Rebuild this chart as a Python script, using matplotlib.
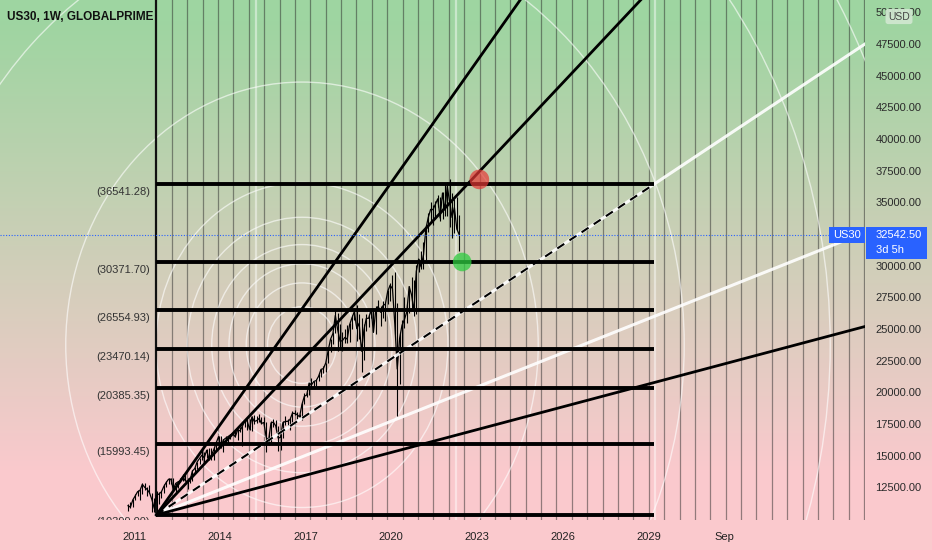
import numpy as np
import matplotlib
matplotlib.use("Agg")
import matplotlib.pyplot as plt
from matplotlib.patches import Ellipse, Rectangle

plt.rcParams['font.family'] = ['Liberation Sans', 'DejaVu Sans']

# ---------------- data ----------------
title = "US30, 1W, GLOBALPRIME"
symbol = "US30"
last_price = 32542.50
countdown = "3d 5h"
currency = "USD"

start_year, start_month = 2010, 10  # first monthly bar (Oct 2010)
closes = [
    11118, 11006, 11578,
    11892, 12226, 12320, 12811, 12570, 12414, 12143, 11614, 10913, 11955, 12046, 12218,
    12633, 12952, 13212, 13214, 12393, 12880, 13009, 13091, 13437, 13096, 13026, 13104,
    13861, 14054, 14579, 14840, 15116, 14910, 15500, 14810, 15130, 15546, 16086, 16577,
    15699, 16322, 16458, 16581, 16717, 16827, 16563, 17098, 17043, 17391, 17828, 17823,
    17165, 18133, 17776, 17841, 18011, 17620, 17690, 16528, 16285, 17664, 17720, 17425,
    16466, 16517, 17685, 17774, 17787, 17930, 18432, 18401, 18308, 18142, 19124, 19763,
    19864, 20812, 20663, 20941, 21009, 21350, 21891, 21948, 22405, 23377, 24272, 24719,
    26149, 25029, 24103, 24163, 24416, 24271, 25415, 25965, 26458, 25116, 25538, 23327,
    24999, 25916, 25929, 26593, 24815, 26600, 26864, 26403, 26917, 27046, 28051, 28538,
    28256, 25409, 21917, 24346, 25383, 25813, 26428, 28430, 27782, 26502, 29638, 30606,
    29983, 30932, 32982, 33875, 34529, 34503, 34935, 35361, 33844, 35820, 34484, 36338,
    35132, 33893, 34678, 32977, 32542.5,
]
highs = [
    11246, 11451, 11625,
    12020, 12391, 12419, 12876, 12929, 12570, 12753, 12143, 11717, 12284, 12231, 12292,
    12841, 13056, 13289, 13297, 13279, 12899, 13109, 13330, 13653, 13662, 13290, 13311,
    13969, 14149, 14585, 14888, 15542, 15340, 15635, 15659, 15710, 15721, 16174, 16589,
    16588, 16398, 16588, 16631, 16735, 16978, 17151, 17153, 17350, 17395, 17895, 18103,
    17951, 18244, 18289, 18175, 18351, 18133, 18137, 17712, 16933, 17800, 17978, 17888,
    17405, 16795, 17790, 18168, 17934, 18016, 18622, 18668, 18534, 18399, 19226, 19988,
    20126, 20851, 21169, 21006, 21112, 21535, 21929, 22179, 22420, 23485, 24327, 24876,
    26617, 26307, 25449, 24858, 25087, 25402, 25552, 26167, 26770, 26952, 26277, 25980,
    25440, 26241, 26155, 26696, 26620, 26907, 27398, 26918, 27306, 27110, 28175, 28702,
    29374, 29568, 27102, 24764, 25759, 27581, 27016, 28502, 29199, 28958, 30116, 30637,
    31272, 31961, 33259, 34257, 35091, 34849, 35171, 35631, 35510, 35892, 36566, 36679,
    36952, 35824, 35372, 35492, 34118,
]
lows = [
    10711, 10930, 11007,
    11577, 11892, 11555, 12036, 12381, 11862, 12093, 10604, 10597, 10404, 11232, 11735,
    12150, 12600, 12836, 12866, 12376, 12035, 12493, 12995, 13048, 13040, 12471, 12883,
    13104, 13746, 14054, 14434, 14723, 14551, 14910, 14760, 14720, 14720, 15501, 15703,
    15689, 15340, 16015, 16015, 16373, 16669, 16551, 16334, 16909, 15855, 17339, 17068,
    17136, 17037, 17579, 17664, 17760, 17597, 17465, 15370, 15942, 16014, 17320, 17138,
    15450, 15503, 16451, 17484, 17331, 17063, 17713, 18288, 17992, 17959, 17884, 19150,
    19678, 19831, 20412, 20379, 20553, 20996, 21279, 21600, 21709, 22416, 23242, 23922,
    24741, 23360, 23509, 23344, 23997, 23997, 24074, 25045, 25781, 24123, 24268, 21712,
    22638, 24883, 25208, 25915, 24815, 24680, 26573, 25340, 25978, 25743, 27033, 27325,
    28169, 24681, 18214, 20735, 23361, 25128, 25523, 26324, 26537, 26143, 26269, 29602,
    29857, 29856, 30547, 32730, 33474, 33271, 33741, 34681, 33613, 33785, 34006, 34006,
    33150, 32272, 32632, 32913, 31253,
]

level_values = [36541.28, 30371.70, 26554.93, 23470.14, 20385.35, 15993.45, 10399.00]
level_labels = ["(36541.28)", "(30371.70)", "(26554.93)", "(23470.14)",
                "(20385.35)", "(15993.45)", "(10399.00)"]

price_ticks = [50000, 47500, 45000, 42500, 40000, 37500, 35000, 30000,
               27500, 25000, 22500, 20000, 17500, 15000, 12500]
year_ticks = [2011, 2014, 2017, 2020, 2023, 2026, 2029]
extra_tick_pos, extra_tick_label = 2031.67, "Sep"

box_x0, box_x1 = 2011.787, 2029.206         # Gann box time span
fan_ratios = [2.13, 1.6, 1.0, 0.6, 0.4]     # relative to box diagonal
fan_kind = ["black", "black", "diag", "white", "black"]
grid_step = 0.5381                           # vertical time lines spacing (years)
grid_count = 47
white_vlines = [2015.27, 2022.26, 2029.21]

fib_center = (2016.876, 23815.0)
fib_unit = (5.107, 12836.0)
fib_levels = [0.236, 0.382, 0.5, 0.618, 0.786, 1.0, 1.618, 2.618, 3.618, 4.236]

red_dot = (2023.08, 36894.0)
green_dot = (2022.48, 30371.70)

# ---------------- figure ----------------
W, H = 932, 550
fig = plt.figure(figsize=(W / 100, H / 100), dpi=100)

# background gradient green -> pink
bg = fig.add_axes([0, 0, 1, 1], zorder=-10)
top_c = np.array([158, 213, 161]) / 255.0
bot_c = np.array([250, 201, 205]) / 255.0
rows = np.arange(H)
t = np.clip((rows - 20) / (470 - 20), 0, 1)[:, None]
grad = top_c[None, :] * (1 - t) + bot_c[None, :] * t
grad = np.repeat(grad[:, None, :], 2, axis=1)
bg.imshow(grad, aspect="auto", extent=[0, 1, 0, 1], origin="upper")
bg.set_axis_off()

plot_w, plot_h = 865, 520
ax = fig.add_axes([0, (H - plot_h) / H, plot_w / W, plot_h / H])
ax.patch.set_alpha(0)
for s in ax.spines.values():
    s.set_visible(False)
ax.set_xticks([])
ax.set_yticks([])
ax.set_xlim(2006.313, 2036.57)
ax.set_ylim(9992, 51066)

# monthly dates
n = len(closes)
dates = np.array([start_year + (start_month - 1 + i + 0.5) / 12.0 for i in range(n)])

# vertical time lines
ymin, ymax = ax.get_ylim()
for k in range(grid_count):
    x = box_x0 + k * grid_step
    if k == 0:
        ax.plot([x, x], [level_values[-1], ymax], color="#111111", lw=1.6, zorder=3)
    else:
        ax.axvline(x, color="#2b2b2b", alpha=0.5, lw=0.9, zorder=1)
for x in white_vlines:
    ax.axvline(x, color="white", alpha=0.45, lw=1.6, zorder=1)

# fib circles (ellipses in data space)
for lv in fib_levels:
    e = Ellipse(fib_center, 2 * fib_unit[0] * lv, 2 * fib_unit[1] * lv,
                fill=False, ec="white", lw=1.0, alpha=0.6, zorder=2)
    ax.add_patch(e)

# price series
ax.vlines(dates, lows, highs, color="black", lw=0.8, zorder=3)
ax.plot(dates, closes, color="black", lw=0.9, zorder=3)

# horizontal box levels
for v in level_values:
    ax.plot([box_x0, box_x1], [v, v], color="black", lw=2.8, solid_capstyle="butt", zorder=5)

# fan lines
ox, oy = box_x0, level_values[-1]
diag = (level_values[0] - level_values[-1]) / (box_x1 - box_x0)
xr = 2040.0
for r, kind in zip(fan_ratios, fan_kind):
    slope = r * diag
    if kind == "black":
        ax.plot([ox, xr], [oy, oy + slope * (xr - ox)], color="black", lw=2.0, zorder=6)
    elif kind == "white":
        ax.plot([ox, xr], [oy, oy + slope * (xr - ox)], color="white", lw=2.2, alpha=0.9, zorder=4)
    else:
        ax.plot([ox, xr], [oy, oy + slope * (xr - ox)], color="white", lw=2.2, alpha=0.9, zorder=4)
        ax.plot([ox, box_x1], [oy, oy + slope * (box_x1 - ox)], color="black", lw=1.5,
                dashes=(4, 3), zorder=6)

# dots
ax.scatter([red_dot[0]], [red_dot[1]], s=200, color="#e53935", alpha=0.7, edgecolors="none", zorder=7)
ax.scatter([green_dot[0]], [green_dot[1]], s=180, color="#2ecc40", alpha=0.75, edgecolors="none", zorder=7)

# last price dotted line
ax.axhline(last_price, color="#2962ff", lw=0.8, ls=(0, (1, 1.5)), zorder=6)

# level labels on the left
label_x = 2006.313 + 150 / 28.59
for v, lab in zip(level_values, level_labels):
    ax.annotate(lab, (label_x, v), xytext=(0, -5.5), textcoords="offset points",
                ha="right", va="center", fontsize=8, color="#333333",
                annotation_clip=False, clip_on=True, zorder=8)

# x tick labels
xt = ax.get_xaxis_transform()
for y in year_ticks:
    ax.text(y, -17 / plot_h, str(y), transform=xt, ha="center", va="center",
            fontsize=8, color="#222222")
ax.text(extra_tick_pos, -17 / plot_h, extra_tick_label, transform=xt, ha="center",
        va="center", fontsize=8, color="#222222")

# y tick labels on the right
yt = ax.get_yaxis_transform()
for p in price_ticks:
    ax.text(898.5 / plot_w, p, f"{p:.2f}", transform=yt, ha="center", va="center",
            fontsize=8, color="#2a2a2a", clip_on=False)

# currency box
fig.text(899 / W, 1 - 16.5 / H, currency, ha="center", va="center", fontsize=7.5,
         color="#444444",
         bbox=dict(boxstyle="round,pad=0.25", fc="#cfe6cf", ec="none", alpha=0.95))

# title
fig.text(7 / W, 1 - 17 / H, title, ha="left", va="center", fontsize=8.5,
         fontweight="bold", color="#111111")

# last price labels
fig.canvas.draw()
py = H - ax.transData.transform((2020, last_price))[1]
blue = "#2962ff"
fig.add_artist(Rectangle((829 / W, 1 - (py + 8.5) / H), 36 / W, 16 / H,
                         transform=fig.transFigure, fc=blue, ec="none", zorder=20))
fig.text(847 / W, 1 - (py + 0.5) / H, symbol, ha="center", va="center", fontsize=8,
         color="white", zorder=21)
fig.add_artist(Rectangle((866 / W, 1 - (py + 24) / H), 61 / W, 31.5 / H,
                         transform=fig.transFigure, fc=blue, ec="none", zorder=20))
fig.text(876 / W, 1 - (py + 0.5) / H, f"{last_price:.2f}", ha="left", va="center",
         fontsize=8, color="white", zorder=21)
fig.text(876 / W, 1 - (py + 15.5) / H, countdown, ha="left", va="center",
         fontsize=8, color="white", zorder=21)

fig.savefig("out.png", dpi=100)
